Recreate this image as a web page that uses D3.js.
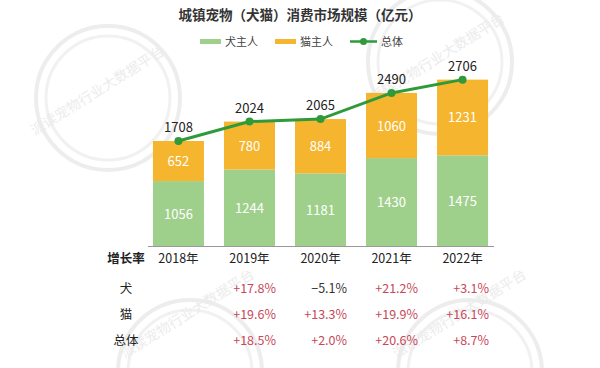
<!DOCTYPE html>
<html>
<head>
<meta charset="utf-8">
<script src="https://cdn.jsdelivr.net/npm/d3@7"></script>
<style>
  body { margin: 0; background: #fff; }
  svg { font-family: "Noto Sans CJK SC", "Noto Sans", sans-serif; }
</style>
</head>
<body>
<div id="vis"></div>
<script>
var years = ['2018年', '2019年', '2020年', '2021年', '2022年'];
var dogValues = [1056, 1244, 1181, 1430, 1475];
var catValues = [652, 780, 884, 1060, 1231];
var totalValues = [1708, 2024, 2065, 2490, 2706];
var rowLabels = ['犬', '猫', '总体'];
var dogGrowth = ['', '+17.8%', '\u22125.1%', '+21.2%', '+3.1%'];
var catGrowth = ['', '+19.6%', '+13.3%', '+19.9%', '+16.1%'];
var totalGrowth = ['', '+18.5%', '+2.0%', '+20.6%', '+8.7%'];

var W = 600, H = 368;
var svg = d3.select('#vis').append('svg')
    .attr('width', W)
    .attr('height', H);

// faint watermark
var wm = svg.append('g').attr('class', 'watermark');
var marks = [
    {cx: 108, cy: 98, tx: 100, ty: 95},
    {cx: 440, cy: 62, tx: 440, ty: 62},
    {cx: 190, cy: 372, tx: 190, ty: 318},
    {cx: 470, cy: 372, tx: 462, ty: 318}
];
marks.forEach(function(m) {
    wm.append('circle').attr('cx', m.cx).attr('cy', m.cy).attr('r', 72)
        .attr('fill', 'none').attr('stroke', '#ededed').attr('stroke-width', 4);
    wm.append('circle').attr('cx', m.cx).attr('cy', m.cy).attr('r', 62)
        .attr('fill', 'none').attr('stroke', '#f1f1f1').attr('stroke-width', 3);
    wm.append('text')
        .attr('transform', 'translate(' + m.tx + ',' + m.ty + ')rotate(-32)')
        .attr('text-anchor', 'middle')
        .attr('fill', '#ececec')
        .style('font-size', '14px')
        .text('派读宠物行业大数据平台');
});

var baseY = 246;

var xScale = d3.scaleBand()
    .domain(years)
    .range([143, 498])
    .paddingInner(20 / 71)
    .paddingOuter(0.14);

var yScale = d3.scaleLinear()
    .domain([0, 1708])
    .range([baseY, 141]);

var green = '#9fd08b', orange = '#f6b52e', lineGreen = '#2f9a3b', red = '#c8485a';

svg.append('text')
    .attr('x', 300).attr('y', 20)
    .attr('text-anchor', 'middle')
    .attr('fill', '#333')
    .style('font-size', '13.5px')
    .style('font-weight', 'bold')
    .text('城镇宠物（犬猫）消费市场规模（亿元）');

// legend
var lg = svg.append('g').style('font-size', '11px').attr('fill', '#444');
lg.append('rect').attr('x', 200).attr('y', 39).attr('width', 21).attr('height', 5).attr('fill', green);
lg.append('text').attr('x', 225).attr('y', 45.5).text('犬主人');
lg.append('rect').attr('x', 275).attr('y', 39).attr('width', 21).attr('height', 5).attr('fill', orange);
lg.append('text').attr('x', 300).attr('y', 45.5).text('猫主人');
lg.append('line').attr('x1', 350).attr('x2', 377).attr('y1', 41.5).attr('y2', 41.5)
    .attr('stroke', lineGreen).attr('stroke-width', 2.5);
lg.append('circle').attr('cx', 363.5).attr('cy', 41.5).attr('r', 3.5).attr('fill', lineGreen);
lg.append('text').attr('x', 381).attr('y', 45.5).text('总体');

var g = svg.append('g');

// dog bars
g.selectAll('.dog').data(years).enter().append('rect')
    .attr('class', 'dog')
    .attr('x', function(d) { return xScale(d); })
    .attr('width', xScale.bandwidth())
    .attr('y', function(d, i) { return yScale(dogValues[i]); })
    .attr('height', function(d, i) { return baseY - yScale(dogValues[i]); })
    .attr('fill', green);

// cat bars
g.selectAll('.cat').data(years).enter().append('rect')
    .attr('class', 'cat')
    .attr('x', function(d) { return xScale(d); })
    .attr('width', xScale.bandwidth())
    .attr('y', function(d, i) { return yScale(dogValues[i] + catValues[i]); })
    .attr('height', function(d, i) { return yScale(dogValues[i]) - yScale(dogValues[i] + catValues[i]); })
    .attr('fill', orange);

var cx = function(d) { return xScale(d) + xScale.bandwidth() / 2; };

g.selectAll('.dogLabel').data(years).enter().append('text')
    .attr('x', cx)
    .attr('y', function(d, i) { return (baseY + yScale(dogValues[i])) / 2 + 5; })
    .attr('text-anchor', 'middle')
    .attr('fill', '#fff')
    .style('font-size', '13px')
    .text(function(d, i) { return dogValues[i]; });

g.selectAll('.catLabel').data(years).enter().append('text')
    .attr('x', cx)
    .attr('y', function(d, i) { return (yScale(dogValues[i]) + yScale(dogValues[i] + catValues[i])) / 2 + 5; })
    .attr('text-anchor', 'middle')
    .attr('fill', '#fff')
    .style('font-size', '13px')
    .text(function(d, i) { return catValues[i]; });

// axis line
svg.append('line')
    .attr('x1', 148).attr('x2', 494)
    .attr('y1', baseY + 0.5).attr('y2', baseY + 0.5)
    .attr('stroke', '#999').attr('stroke-width', 1);

// total line
var line = d3.line()
    .x(function(d) { return cx(d); })
    .y(function(d, i) { return yScale(totalValues[i]); });

g.append('path').datum(years)
    .attr('d', line)
    .attr('fill', 'none')
    .attr('stroke', lineGreen)
    .attr('stroke-width', 3);

g.selectAll('.dot').data(years).enter().append('circle')
    .attr('cx', cx)
    .attr('cy', function(d, i) { return yScale(totalValues[i]); })
    .attr('r', 4)
    .attr('fill', lineGreen);

g.selectAll('.totalLabel').data(years).enter().append('text')
    .attr('x', cx)
    .attr('y', function(d, i) { return yScale(totalValues[i]) - 9; })
    .attr('text-anchor', 'middle')
    .attr('fill', '#222')
    .style('font-size', '13px')
    .text(function(d, i) { return totalValues[i]; });

// table
var xAxis = d3.axisBottom(xScale).tickSize(0).tickPadding(0);
var ax = svg.append('g')
    .attr('transform', 'translate(0,' + 258 + ')')
    .call(xAxis);
ax.select('.domain').remove();
ax.selectAll('text')
    .attr('dy', 5)
    .attr('fill', '#222')
    .style('font-size', '12.5px')
    .style('font-family', '"Noto Sans CJK SC", "Noto Sans", sans-serif');

svg.append('text')
    .attr('x', 126).attr('y', 263)
    .attr('text-anchor', 'middle')
    .attr('fill', '#222')
    .style('font-size', '12.5px')
    .style('font-weight', 'bold')
    .text('增长率');

var rows = [dogGrowth, catGrowth, totalGrowth];
var rowY = [293, 319, 345];
rows.forEach(function(row, r) {
    svg.append('text')
        .attr('x', 126).attr('y', rowY[r])
        .attr('text-anchor', 'middle')
        .attr('fill', '#222')
        .style('font-size', '12.5px')
        .text(rowLabels[r]);
    svg.selectAll('.row' + r).data(years).enter().append('text')
        .attr('x', function(d) { return xScale(d) + xScale.bandwidth() + 1; })
        .attr('y', rowY[r])
        .attr('text-anchor', 'end')
        .attr('fill', function(d, i) { return row[i].charAt(0) === '+' ? red : '#333'; })
        .style('font-size', '12.5px')
        .text(function(d, i) { return row[i]; });
});
</script>
</body>
</html>
